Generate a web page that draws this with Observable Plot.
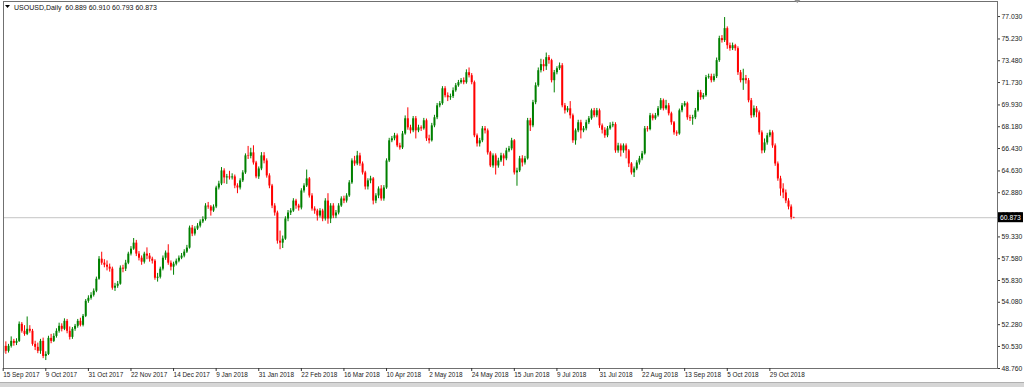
<!DOCTYPE html>
<html><head><meta charset="utf-8">
<script src="https://cdn.jsdelivr.net/npm/d3@7"></script>
<script src="https://cdn.jsdelivr.net/npm/@observablehq/plot@0.6"></script>
<style>
html,body{margin:0;padding:0;background:#fff;overflow:hidden}
svg{display:block}
</style></head><body><div id="chart"></div>
<script>
const symbolTitle = "USOUSD,Daily";
const lastQuote = ["60.889", "60.910", "60.793", "60.873"];
const lastPrice = 60.873;

const opens = [49.98,50.54,50.14,50.54,50.94,50.78,50.94,52.31,51.75,51.50,
51.91,51.75,50.70,50.46,50.14,50.94,49.73,49.89,51.18,50.94,
51.34,51.75,52.15,51.91,52.55,51.75,51.26,51.91,52.15,52.55,
52.23,52.95,54.16,54.40,54.64,54.97,55.93,57.54,57.22,57.06,
56.90,56.74,55.21,55.37,55.53,56.82,56.74,57.22,57.95,58.35,
58.83,57.95,57.62,57.30,57.95,57.79,57.54,57.38,56.01,56.09,
56.74,57.62,58.03,57.22,56.90,57.14,57.38,57.62,57.79,58.11,
58.43,60.04,59.56,59.96,60.20,60.53,60.72,61.81,61.73,61.41,
61.73,63.26,63.58,64.63,64.07,64.15,64.07,64.15,63.42,63.26,
63.83,64.47,65.84,65.80,66.08,65.27,64.15,64.79,65.84,65.43,
64.23,63.42,61.81,61.25,58.99,58.83,59.15,60.77,61.25,61.41,
62.21,61.81,61.65,63.02,63.42,63.99,62.62,61.57,61.41,61.01,
61.41,60.77,62.21,60.77,61.81,61.01,61.25,61.81,62.38,62.21,
62.62,63.67,65.43,65.19,65.84,65.19,64.47,63.34,63.83,63.99,
62.21,62.62,63.18,62.38,63.26,65.43,67.05,67.21,67.45,66.64,
66.48,67.60,68.82,68.09,67.85,68.82,67.85,68.09,68.01,68.66,
67.21,67.05,68.25,68.90,69.86,70.03,71.23,70.67,70.51,70.60,
71.07,71.47,71.72,71.88,71.72,72.52,72.28,71.72,67.45,66.80,
67.05,68.01,67.85,66.08,65.03,65.84,65.03,65.43,65.84,65.60,
66.24,66.40,67.05,64.47,64.63,65.60,65.27,65.60,68.66,68.25,
70.11,71.47,72.68,73.17,73.00,73.73,73.49,71.88,72.52,72.84,
73.08,69.86,69.46,69.62,69.06,67.05,67.85,68.50,67.85,68.01,
68.50,68.82,69.46,69.06,69.46,68.25,67.90,67.45,68.01,68.25,
68.35,66.24,66.64,66.24,66.64,66.24,65.19,64.47,64.79,65.27,
65.60,66.00,68.01,67.95,69.06,68.82,69.06,69.62,70.27,69.62,
69.86,69.22,68.50,67.69,67.60,69.46,69.86,70.03,68.90,68.82,
68.90,69.46,70.91,70.51,70.67,72.12,72.20,71.88,72.20,73.49,
75.26,75.10,76.06,74.69,74.45,74.69,74.45,72.52,71.88,72.04,
71.88,70.27,69.06,69.62,69.30,67.69,66.24,66.88,67.45,67.69,
66.64,65.19,63.99,63.18,62.86,62.21,61.73,60.889];

const highs = [50.75,50.90,50.70,51.30,51.10,51.15,52.50,52.45,52.20,52.90,
52.20,51.90,50.95,50.80,51.10,51.20,50.10,51.35,51.50,51.55,
51.95,52.40,52.35,52.75,52.70,52.10,52.05,52.30,52.70,52.80,
53.10,54.30,54.60,54.85,55.15,56.10,57.75,58.10,57.50,57.40,
57.15,56.90,55.60,55.75,57.00,57.05,57.45,58.10,58.55,59.20,
59.05,58.15,57.80,58.10,58.45,58.00,57.70,57.50,56.40,56.90,
57.80,58.20,58.70,57.40,57.30,57.55,57.80,58.00,58.30,58.65,
60.20,60.25,60.15,60.40,60.70,60.95,62.00,62.10,61.85,61.90,
63.40,63.80,64.90,64.80,64.35,64.60,64.40,64.30,63.60,64.00,
64.65,66.00,66.60,66.45,66.65,65.40,64.95,66.10,66.10,65.60,
64.40,63.55,62.00,61.40,59.80,59.40,60.95,61.45,61.60,62.40,
62.35,61.95,63.20,63.60,64.70,64.10,62.80,61.75,61.55,61.60,
61.55,62.40,62.80,62.00,62.00,61.45,62.00,62.55,62.60,62.80,
63.85,65.60,65.80,66.20,66.05,65.35,64.60,64.00,64.20,64.10,
62.80,63.35,63.45,63.45,65.60,67.25,67.40,67.65,67.60,66.85,
67.80,69.05,69.70,68.30,69.00,69.00,68.30,68.25,68.85,68.80,
67.50,68.45,69.10,70.05,70.20,71.40,71.40,70.90,70.80,71.30,
71.65,71.90,72.05,72.10,72.75,72.90,72.45,71.85,67.60,67.25,
68.20,68.20,68.00,66.20,66.00,66.00,65.65,66.05,66.00,66.45,
66.60,67.25,67.15,64.85,65.80,65.85,65.80,68.85,68.85,70.30,
71.70,72.90,73.60,73.55,74.10,73.90,73.60,72.70,73.00,73.30,
73.25,70.05,69.80,70.20,69.20,68.00,68.70,68.70,68.20,68.70,
69.00,69.60,69.65,69.65,69.60,68.40,68.10,68.20,68.50,68.55,
68.50,66.85,66.80,66.80,66.80,66.35,65.30,64.95,65.45,65.80,
66.20,68.20,68.20,69.25,69.20,69.25,69.80,70.45,70.40,70.30,
70.05,69.35,68.60,67.85,69.60,70.05,70.20,70.15,69.10,69.10,
69.65,71.10,71.10,70.85,72.30,72.40,72.40,72.40,73.70,75.45,
75.50,76.95,76.20,74.90,74.90,74.80,74.60,72.70,72.80,72.30,
72.05,70.45,69.85,69.80,69.45,67.85,67.20,67.65,67.90,67.85,
66.80,65.35,64.20,63.60,63.10,62.40,61.90,60.910];

const lows = [49.80,49.90,50.00,50.40,50.55,50.60,50.85,51.60,51.35,51.40,
51.60,50.55,50.20,49.95,49.90,49.55,49.40,49.80,50.75,50.85,
51.20,51.60,51.70,51.80,51.55,51.05,51.10,51.75,52.00,52.10,
52.10,52.85,54.00,54.25,54.50,54.85,55.85,57.05,56.85,56.60,
56.50,55.05,54.95,55.20,55.45,56.45,56.55,57.10,57.80,58.25,
57.75,57.40,57.05,57.15,57.50,57.30,57.15,55.85,55.70,55.95,
56.60,57.45,57.05,56.60,56.25,57.00,57.25,57.50,57.65,58.00,
58.35,59.35,59.40,59.85,60.05,60.40,60.60,61.55,61.00,61.30,
61.60,63.10,63.45,63.60,63.55,63.90,63.90,63.20,62.80,63.10,
63.70,64.35,65.55,65.60,65.10,64.00,63.95,64.65,65.20,64.05,
63.20,61.60,61.00,58.75,58.30,58.40,59.05,60.55,61.05,61.30,
61.55,61.40,61.50,62.85,63.30,62.45,61.40,61.15,60.60,60.85,
60.55,60.60,60.35,60.40,60.80,60.80,61.10,61.70,62.00,62.05,
62.50,63.55,65.00,65.05,65.00,64.30,63.10,63.10,63.60,61.90,
62.00,62.40,62.20,62.20,63.15,65.30,66.90,67.05,66.50,66.30,
66.35,67.50,67.90,67.60,67.70,67.20,67.70,67.80,67.90,67.00,
66.80,66.95,68.10,68.75,69.70,69.90,70.50,70.20,70.30,70.45,
70.95,71.35,71.60,71.55,71.60,72.10,71.55,67.30,66.55,66.55,
66.90,67.60,65.90,64.90,64.85,64.30,64.85,65.30,65.00,65.45,
66.10,66.25,64.30,63.40,64.50,64.95,65.10,65.50,67.80,68.10,
69.95,71.35,72.50,72.60,72.70,73.20,71.70,70.90,72.35,72.70,
69.70,69.20,69.30,68.80,66.85,66.70,67.70,67.20,67.70,67.85,
68.35,68.70,68.90,68.90,68.05,67.60,67.25,67.30,67.90,68.10,
66.05,66.05,65.75,66.05,65.60,64.90,64.30,64.10,64.65,65.10,
65.45,65.90,67.75,67.85,68.65,68.70,68.95,69.50,69.45,69.50,
69.05,68.30,67.50,67.40,67.50,69.30,69.75,68.70,68.60,68.30,
68.75,69.35,70.30,70.35,70.55,72.00,71.70,71.75,72.05,73.35,
74.90,74.95,74.40,74.25,74.30,74.25,72.30,71.70,71.10,71.60,
70.10,68.85,68.90,68.90,67.50,66.00,66.05,66.70,67.30,66.45,
65.00,63.80,62.60,62.40,62.00,61.50,60.70,60.793];

const closes = [50.54,50.14,50.54,50.94,50.78,50.94,52.31,51.75,51.50,51.91,
51.75,50.70,50.46,50.14,50.94,49.73,49.89,51.18,50.94,51.34,
51.75,52.15,51.91,52.55,51.75,51.26,51.91,52.15,52.55,52.23,
52.95,54.16,54.40,54.64,54.97,55.93,57.54,57.22,57.06,56.90,
56.74,55.21,55.37,55.53,56.82,56.74,57.22,57.95,58.35,58.83,
57.95,57.62,57.30,57.95,57.79,57.54,57.38,56.01,56.09,56.74,
57.62,58.03,57.22,56.90,57.14,57.38,57.62,57.79,58.11,58.43,
60.04,59.56,59.96,60.20,60.53,60.72,61.81,61.73,61.41,61.73,
63.26,63.58,64.63,64.07,64.15,64.07,64.15,63.42,63.26,63.83,
64.47,65.84,65.80,66.08,65.27,64.15,64.79,65.84,65.43,64.23,
63.42,61.81,61.25,58.99,58.83,59.15,60.77,61.25,61.41,62.21,
61.81,61.65,63.02,63.42,63.99,62.62,61.57,61.41,61.01,61.41,
60.77,62.21,60.77,61.81,61.01,61.25,61.81,62.38,62.21,62.62,
63.67,65.43,65.19,65.84,65.19,64.47,63.34,63.83,63.99,62.21,
62.62,63.18,62.38,63.26,65.43,67.05,67.21,67.45,66.64,66.48,
67.60,68.82,68.09,67.85,68.82,67.85,68.09,68.01,68.66,67.21,
67.05,68.25,68.90,69.86,70.03,71.23,70.67,70.51,70.60,71.07,
71.47,71.72,71.88,71.72,72.52,72.28,71.72,67.45,66.80,67.05,
68.01,67.85,66.08,65.03,65.84,65.03,65.43,65.84,65.60,66.24,
66.40,67.05,64.47,64.63,65.60,65.27,65.60,68.66,68.25,70.11,
71.47,72.68,73.17,73.00,73.73,73.49,71.88,72.52,72.84,73.08,
69.86,69.46,69.62,69.06,67.05,67.85,68.50,67.85,68.01,68.50,
68.82,69.46,69.06,69.46,68.25,67.90,67.45,68.01,68.25,68.35,
66.24,66.64,66.24,66.64,66.24,65.19,64.47,64.79,65.27,65.60,
66.00,68.01,67.95,69.06,68.82,69.06,69.62,70.27,69.62,69.86,
69.22,68.50,67.69,67.60,69.46,69.86,70.03,68.90,68.82,68.90,
69.46,70.91,70.51,70.67,72.12,72.20,71.88,72.20,73.49,75.26,
75.10,76.06,74.69,74.45,74.69,74.45,72.52,71.88,72.04,71.88,
70.27,69.06,69.62,69.30,67.69,66.24,66.88,67.45,67.69,66.64,
65.19,63.99,63.18,62.86,62.21,61.73,60.89,60.873];

const dateLabels = ["15 Sep 2017","9 Oct 2017","31 Oct 2017","22 Nov 2017","14 Dec 2017","9 Jan 2018","31 Jan 2018","22 Feb 2018","16 Mar 2018","10 Apr 2018","2 May 2018","24 May 2018","15 Jun 2018","9 Jul 2018","31 Jul 2018","22 Aug 2018","13 Sep 2018","5 Oct 2018","29 Oct 2018"];
const dateLabelBars = [0,16,32,48,64,80,96,112,128,144,160,176,192,208,224,240,256,272,288];
const priceTicks = [48.76,50.53,52.28,54.08,55.83,57.58,59.33,61.13,62.88,64.63,66.43,68.18,69.93,71.73,73.48,75.23,77.03];

const BULL = "#008000", BEAR = "#ff0000";
const candles = closes.map((c, i) => ({
  i, o: opens[i], h: highs[i], l: lows[i], c,
  col: c > opens[i] ? BULL : BEAR
}));

const W = 1024, H = 387;
const FONT = "'Liberation Sans', Arial, sans-serif";

const chart = Plot.plot({
  width: W, height: H,
  marginLeft: 3, marginRight: 27, marginTop: 1, marginBottom: 19,
  x: {type: "linear", domain: [0.11, 373.51], label: null},
  y: {domain: [48.76, 78.24], label: null},
  style: {fontFamily: FONT, background: "#fff", color: "#1a1a1a"},
  marks: [
    Plot.ruleY([lastPrice], {stroke: "#c4c4c4", strokeWidth: 1}),
    Plot.ruleX(candles, {x: "i", y1: "l", y2: "h", stroke: "col", strokeWidth: 1, clip: true}),
    Plot.ruleX(candles, {x: "i", y1: "o", y2: "c", stroke: "col", strokeWidth: 2, clip: true}),
    Plot.frame({stroke: "#707070"}),
    Plot.axisX({
      ticks: dateLabelBars,
      tickFormat: d => dateLabels[dateLabelBars.indexOf(d)],
      textAnchor: "start", dx: 0, tickSize: 3, tickPadding: 1,
      fontSize: 6.4, label: null, stroke: "#333"
    }),
    Plot.axisY({
      anchor: "right", ticks: priceTicks,
      tickFormat: d => d.toFixed(3),
      tickSize: 2, tickPadding: 2, fontSize: 6.8, label: null, stroke: "#333"
    })
  ]
});

document.getElementById("chart").appendChild(chart);

// decorations using the chart's own scales
const svg = d3.select(chart);
const yS = chart.scale("y"), xS = chart.scale("x");
const yLast = yS.apply(lastPrice);

const tag = svg.append("g").attr("text-anchor", "start");
tag.append("rect").attr("x", 998).attr("y", yLast - 5).attr("width", 25).attr("height", 10).attr("fill", "#000");
tag.append("text").attr("x", 1000).attr("y", yLast + 2.4).attr("fill", "#fff")
  .attr("text-anchor", "start")
  .attr("font-family", FONT).attr("font-size", 6.8).text(lastPrice.toFixed(3));

// title
const t = svg.append("g").attr("text-anchor", "start");
t.append("path").attr("d", "M5,5 L10,5 L7.5,8 Z").attr("fill", "#000");
t.append("text").attr("x", 14).attr("y", 10).attr("font-family", FONT).attr("font-size", 7)
  .attr("text-anchor", "start")
  .attr("fill", "#111").style("white-space", "pre")
  .text(symbolTitle + "  " + lastQuote.join(" "));

// chart shift marker
const xShift = xS.apply(candles.length - 1) + 4;
svg.append("path").attr("d", `M${xShift - 3},0 L${xShift + 3},0 L${xShift},3 Z`).attr("fill", "#909090");

// bottom tab strip
svg.append("rect").attr("x", 0).attr("y", 382).attr("width", W).attr("height", 5).attr("fill", "#d6d6d6");
svg.append("line").attr("x1", 0).attr("x2", W).attr("y1", 382.5).attr("y2", 382.5).attr("stroke", "#b0b0b0");
</script></body></html>
